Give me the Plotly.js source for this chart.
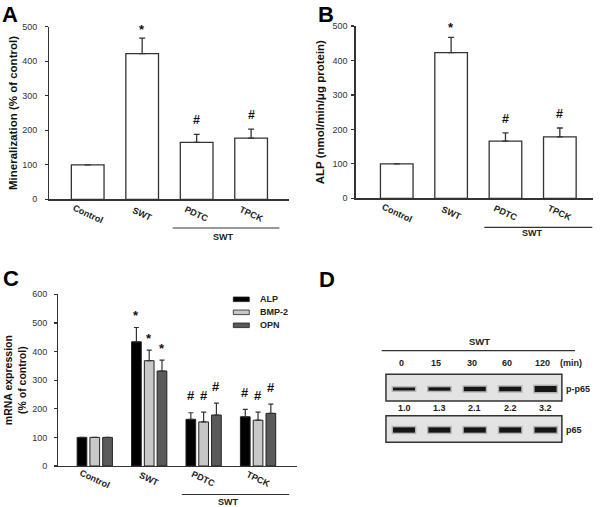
<!DOCTYPE html>
<html><head><meta charset="utf-8">
<script src="https://cdn.plot.ly/plotly-3.0.1.min.js"></script>
<style>html,body{margin:0;padding:0;background:#fff}</style>
</head><body><div id="chart" style="width:600px;height:507px"></div>
<script>
// ---------- data ----------
const categories = ['Control', 'SWT', 'PDTC', 'TPCK'];
const groupLabel = 'SWT';

const mineralization = [100, 422, 165, 177];
const mineralizationErr = [0, 45, 23, 26];
const mineralizationMarks = ['', '*', '#', '#'];

const alpActivity = [100, 423, 166, 178];
const alpActivityErr = [0, 44, 24, 26];
const alpActivityMarks = ['', '*', '#', '#'];

const mrnaSeries = ['ALP', 'BMP-2', 'OPN'];
const mrnaALP = [100, 434, 163, 172];
const mrnaALPErr = [0, 50, 23, 26];
const mrnaBMP2 = [100, 368, 154, 160];
const mrnaBMP2Err = [0, 37, 34, 28];
const mrnaOPN = [100, 332, 178, 184];
const mrnaOPNErr = [0, 38, 42, 32];
const mrnaMarks = ['', '*', '#', '#'];

const timePoints = ['0', '15', '30', '60', '120'];
const foldChange = [1.0, 1.3, 2.1, 2.2, 3.2];
const p65Level = [1.0, 1.0, 1.0, 1.0, 1.0];

// ---------- helpers ----------
const FONT = 'Arial, "Liberation Sans", Helvetica, sans-serif';
const W = 600, H = 507;
const px = v => v / W;
const py = v => 1 - v / H;
const zeros = a => a.map(() => 0);

const traces = [];
const shapes = [];
const annotations = [];
const ann = o => annotations.push(Object.assign({showarrow: false, xanchor: 'center', yanchor: 'middle'}, o));

function singleBars(vals, errs, xa, ya) {
  traces.push({
    type: 'bar', x: categories, y: vals, xaxis: xa, yaxis: ya, width: 0.6,
    marker: {color: '#ffffff', line: {color: '#333', width: 1.3}},
    error_y: {type: 'data', array: errs, arrayminus: zeros(errs), symmetric: false,
              color: '#333', thickness: 1.3, width: 3},
    showlegend: false, hoverinfo: 'skip'
  });
}
singleBars(mineralization, mineralizationErr, 'x', 'y');
singleBars(alpActivity, alpActivityErr, 'x2', 'y2');

const mrnaValues = [mrnaALP, mrnaBMP2, mrnaOPN];
const mrnaErrs = [mrnaALPErr, mrnaBMP2Err, mrnaOPNErr];
const mrnaColors = ['#000000', '#c8c8c8', '#5a5a5a'];
const groupOffsets = [-0.235, 0, 0.235];
const cw = 0.178;
mrnaSeries.forEach((name, k) => {
  traces.push({
    type: 'bar', name: name, x: categories, y: mrnaValues[k], xaxis: 'x3', yaxis: 'y3',
    width: cw, offset: groupOffsets[k] - cw / 2,
    marker: {color: mrnaColors[k], line: {color: '#222', width: 1}},
    error_y: {type: 'data', array: mrnaErrs[k], arrayminus: zeros(mrnaErrs[k]), symmetric: false,
              color: '#333', thickness: 1.2, width: 2.5},
    showlegend: false, hoverinfo: 'skip'
  });
});

// ---------- western blot (panel D) ----------
const laneHalf = 0.35;
const blotFont = {family: FONT, size: 9, color: '#222'};
timePoints.forEach((t, i) => {
  const wTop = 1.5 + 1.4 * foldChange[i];
  const wBot = 5.3 * p65Level[i];
  [[1, wTop], [0, wBot]].forEach(([row, w]) => {
    traces.push({type: 'scatter', mode: 'lines', x: [i - laneHalf, i + laneHalf], y: [row, row],
      xaxis: 'x4', yaxis: 'y4', line: {color: 'rgba(70,70,70,0.3)', width: w + 3},
      showlegend: false, hoverinfo: 'skip'});
    traces.push({type: 'scatter', mode: 'lines', x: [i - laneHalf + 0.04, i + laneHalf - 0.04], y: [row, row],
      xaxis: 'x4', yaxis: 'y4', line: {color: '#151515', width: w},
      showlegend: false, hoverinfo: 'skip'});
  });
  ann({xref: 'x4', yref: 'y4', x: i, y: 1.627, xshift: -3, text: '<b>' + t + '</b>', font: blotFont});
  ann({xref: 'x4', yref: 'y4', x: i, y: 0.529, text: '<b>' + foldChange[i].toFixed(1) + '</b>', font: blotFont});
});
const nLanes = timePoints.length;
shapes.push({type: 'rect', xref: 'x4', yref: 'y4', x0: -0.51, x1: nLanes - 1 + 0.46, y0: 0.707, y1: 1.359,
  fillcolor: '#e3e3e3', line: {color: '#333', width: 1.5}, layer: 'below'});
shapes.push({type: 'rect', xref: 'x4', yref: 'y4', x0: -0.51, x1: nLanes - 1 + 0.46, y0: -0.30, y1: 0.349,
  fillcolor: '#e3e3e3', line: {color: '#333', width: 1.5}, layer: 'below'});
shapes.push({type: 'line', xref: 'x4', yref: 'y4', x0: -0.63, x1: 4.83, y0: 1.934, y1: 1.934,
  line: {color: '#333', width: 1.2}});
ann({xref: 'x4', yref: 'y4', x: 2.13, y: 2.17, text: '<b>SWT</b>', font: {family: FONT, size: 9.5, color: '#222'}});
ann({xref: 'x4', yref: 'y4', x: 4.71, y: 1.627, text: '<b>(min)</b>', font: blotFont});
ann({xref: 'x4', yref: 'y4', x: -0.94, y: 0.529, text: '<b>Fold</b>', font: blotFont});
ann({xref: 'x4', yref: 'y4', x: 4.53, y: 1, xanchor: 'left', text: '<b>p-p65</b>', font: blotFont});
ann({xref: 'x4', yref: 'y4', x: 4.53, y: 0, xanchor: 'left', text: '<b>p65</b>', font: blotFont});

// ---------- category labels, brackets, significance marks ----------
const catFont = {family: FONT, size: 9, color: '#222'};
function catLabels(xref, yPix, bracket, swt) {
  categories.forEach(c => ann({xref: xref, yref: 'paper', x: c, y: py(yPix),
    text: '<b>' + c + '</b>', textangle: 25, font: catFont}));
  shapes.push({type: 'line', xref: xref, yref: 'paper', x0: bracket[0], x1: bracket[1],
    y0: py(bracket[2]), y1: py(bracket[2]), line: {color: '#333', width: 1.2}});
  ann({xref: xref, yref: 'paper', x: swt[0], y: py(swt[1]), text: '<b>' + groupLabel + '</b>', font: catFont});
}
catLabels('x', 214, [1.561, 3.519, 228], [2.485, 236.5]);
catLabels('x2', 213.3, [1.611, 3.597, 227.3], [2.494, 233.3]);
catLabels('x3', 478.5, [1.598, 3.571, 494.5], [2.45, 501.5]);

function marks(xref, yref, vals, errs, mk, xoff, sizes, shifts) {
  vals.forEach((v, i) => {
    if (!mk[i]) return;
    const star = mk[i] === '*';
    ann({xref: xref, yref: yref, x: i + xoff, y: v + errs[i],
      yshift: star ? shifts[0] : shifts[1], text: '<b>' + mk[i] + '</b>',
      font: {family: FONT, size: star ? sizes[0] : sizes[1], color: '#111'}});
  });
}
marks('x', 'y', mineralization, mineralizationErr, mineralizationMarks, 0, [13, 12.5], [9, 14]);
marks('x2', 'y2', alpActivity, alpActivityErr, alpActivityMarks, 0, [13, 12.5], [10, 14]);
mrnaSeries.forEach((s, k) => marks('x3', 'y3', mrnaValues[k], mrnaErrs[k], mrnaMarks, groupOffsets[k], [13, 13], [12, 17]));

// ---------- manual legend for panel C ----------
mrnaSeries.forEach((s, k) => {
  const yc = 299.3 + 13 * k;
  shapes.push({type: 'rect', xref: 'paper', yref: 'paper', x0: px(233.3), x1: px(249.3),
    y0: py(yc + 2.3), y1: py(yc - 2.3), fillcolor: mrnaColors[k], line: {color: '#222', width: 0.8}});
  ann({xref: 'paper', yref: 'paper', x: px(258.3), y: py(yc), xanchor: 'left',
    text: '<b>' + s + '</b>', font: {family: FONT, size: 9, color: '#222'}});
});

// ---------- panel letters ----------
[['A', 0, 0], ['B', 316, 0], ['C', 1, 263.5], ['D', 317, 264.5]].forEach(([t, x, y]) => {
  ann({xref: 'paper', yref: 'paper', x: px(x), y: py(y), xanchor: 'left', yanchor: 'top',
    text: '<b>' + t + '</b>', font: {family: FONT, size: 22, color: '#000'}});
});

// ---------- axes ----------
const yAxisBase = (range, dtick, title, standoff, labelStandoff) => ({
  range: range, dtick: dtick, tick0: 0, ticks: 'outside', ticklen: 3, tickwidth: 1.2, tickcolor: '#333',
  showline: true, linecolor: '#333', linewidth: 1.3, showgrid: false, zeroline: false,
  ticklabelstandoff: labelStandoff,
  tickfont: {family: FONT, size: 9, color: '#333'},
  title: {text: title, standoff: standoff, font: {family: FONT, size: 11.5, color: '#111'}}
});
const xAxisBase = (domain, range) => ({
  domain: domain, range: range, type: 'category', showline: true, linecolor: '#333', linewidth: 1.3,
  ticks: '', showticklabels: false, showgrid: false, zeroline: false
});

const layout = {
  width: W, height: H, margin: {l: 0, r: 0, t: 0, b: 0},
  paper_bgcolor: '#ffffff', plot_bgcolor: 'rgba(0,0,0,0)',
  barmode: 'overlay', showlegend: false,
  font: {family: FONT},
  xaxis: Object.assign(xAxisBase([px(49.3), px(288.7)], [-0.705, 3.69]), {anchor: 'y'}),
  yaxis: Object.assign(yAxisBase([0, 500], 100, '<b>Mineralization (% of control)</b>', 2, 6),
    {domain: [py(199.3), py(26.7)], anchor: 'x'}),
  xaxis2: Object.assign(xAxisBase([px(355.7), px(593)], [-0.755, 3.61]), {anchor: 'y2'}),
  yaxis2: Object.assign(yAxisBase([0, 500], 100, '<b>ALP (nmol/min/μg protein)</b>', 5, 2),
    {domain: [py(198.3), py(26)], anchor: 'x2'}),
  xaxis3: Object.assign(xAxisBase([px(58.3), px(296.7)], [-0.67, 3.71]), {anchor: 'y3'}),
  yaxis3: Object.assign(yAxisBase([0, 600], 100, '<b>mRNA expression<br>(% of control)</b>', 3, 5),
    {domain: [py(466), py(294.3)], anchor: 'x3'}),
  xaxis4: {domain: [px(380), 1], range: [-0.678, 5.537], visible: false, anchor: 'y4'},
  yaxis4: {domain: [py(460), py(330)], range: [-0.7317, 2.439], visible: false, anchor: 'x4'},
  shapes: shapes,
  annotations: annotations
};
layout.yaxis3.title.font.size = 10.5;

Plotly.newPlot('chart', traces, layout, {displayModeBar: false, staticPlot: true});
</script>
</body></html>
